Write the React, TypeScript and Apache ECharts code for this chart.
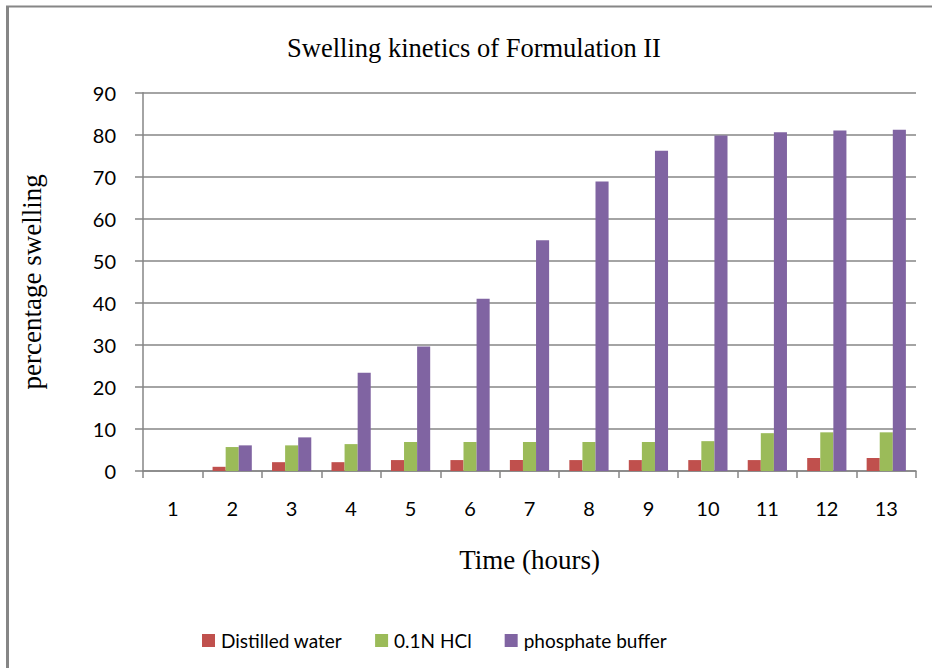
import React, { useEffect, useRef } from "react";
import * as echarts from "echarts";

const categories = ["1", "2", "3", "4", "5", "6", "7", "8", "9", "10", "11", "12", "13"];
const distilledWater = [0, 1.0, 2.1, 2.1, 2.6, 2.6, 2.6, 2.6, 2.6, 2.6, 2.6, 3.1, 3.1];
const hcl = [0, 5.7, 6.1, 6.4, 6.9, 6.9, 6.9, 6.9, 6.9, 7.1, 9.0, 9.2, 9.2];
const phosphateBuffer = [0, 6.1, 8.0, 23.4, 29.6, 41.0, 54.9, 68.9, 76.2, 79.8, 80.6, 81.0, 81.2];
const seriesNames = ["Distilled water", "0.1N HCl", "phosphate buffer"];
const colors = ["#C0504D", "#9BBB59", "#8064A2"];

export default function App() {
  const ref = useRef<HTMLDivElement>(null);
  useEffect(() => {
    if (!ref.current) return;
    const chart = echarts.init(ref.current, undefined, { renderer: "svg" });
    const axisColor = "#868686";
    const sans = "Lato";
    const serif = "Liberation Serif";
    const data = [distilledWater, hcl, phosphateBuffer];
    chart.setOption({
      animation: false,
      backgroundColor: "#ffffff",
      title: {
        text: "Swelling kinetics of Formulation II",
        left: 469,
        top: 29,
        textAlign: "center",
        textStyle: { fontFamily: serif, fontSize: 26.5, fontWeight: "normal", color: "#000" },
      },
      legend: {
        data: seriesNames,
        left: 197,
        top: 626,
        itemWidth: 13,
        itemHeight: 13,
        itemGap: 33,
        icon: "rect",
        textStyle: { fontFamily: sans, fontSize: 19, color: "#000", padding: [0, 0, 0, 1] },
      },
      grid: { left: 143, right: 16, top: 92.7, bottom: 197 },
      xAxis: {
        type: "category",
        data: categories,
        name: "Time (hours)",
        nameLocation: "middle",
        nameGap: 75,
        nameTextStyle: { fontFamily: serif, fontSize: 27, color: "#000" },
        axisLine: { show: true, lineStyle: { color: axisColor, width: 1.5 } },
        axisTick: { show: true, length: 7, alignWithLabel: false, lineStyle: { color: axisColor, width: 1.5 } },
        axisLabel: { fontFamily: sans, fontSize: 20, color: "#000", margin: 27 },
      },
      yAxis: {
        type: "value",
        min: 0,
        max: 90,
        interval: 10,
        name: "percentage swelling",
        nameLocation: "middle",
        nameGap: 98,
        nameRotate: 90,
        nameTextStyle: { fontFamily: serif, fontSize: 27, color: "#000" },
        axisLine: { show: true, lineStyle: { color: axisColor, width: 1.5 } },
        axisTick: { show: true, length: 8, lineStyle: { color: axisColor, width: 1.5 } },
        axisLabel: { fontFamily: sans, fontSize: 20, color: "#000", margin: 27 },
        splitLine: { show: true, lineStyle: { color: axisColor, width: 1.5 } },
      },
      series: seriesNames.map((name, i) => ({
        name,
        type: "bar",
        data: data[i],
        barGap: "0%",
        barCategoryGap: "34%",
        itemStyle: { color: colors[i] },
      })),
      graphic: [
        { type: "line", shape: { x1: 7.5, y1: 6, x2: 7.5, y2: 700 }, style: { stroke: "#868686", lineWidth: 3 } },
        { type: "line", shape: { x1: 6, y1: 6.5, x2: 940, y2: 6.5 }, style: { stroke: "#868686", lineWidth: 2 } },
      ],
    });
    return () => chart.dispose();
  }, []);
  return (
    <div
      ref={ref}
      style={{ position: "absolute", left: 0, top: 0, width: 932, height: 668 }}
    />
  );
}
